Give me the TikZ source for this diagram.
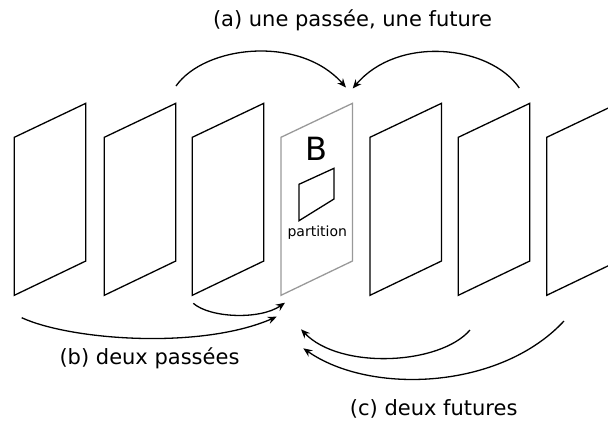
\documentclass[tikz,border=0pt]{standalone}
\usepackage{fontspec}
\setmainfont{DejaVu Sans}
\usetikzlibrary{arrows.meta}
\tikzset{
  frm/.style={line width=1.3pt, line join=miter, draw=black},
  frmB/.style={line width=1.3pt, line join=miter, draw=black!40},
  arr/.style={line width=1.3pt, -{Stealth[length=9pt,width=7.5pt,inset=3pt]}},
  lbl/.style={inner sep=0pt, font=\fontsize{21}{25}\selectfont},
}
\newcommand{\myframe}[3]{%
  \draw[#3] (#2,137.3) coordinate (#1) -- (#2+71.5,103.3) -- (#2+71.5,261) -- (#2,295.3) -- cycle;}
\begin{document}
\begin{tikzpicture}[x=1pt,y=-1pt]
\useasboundingbox (0,0) rectangle (608,421);
\clip (0,0) rectangle (608,421);
\myframe{f1}{14.3}{frm}
\myframe{f2}{104.3}{frm}
\myframe{f3}{192.3}{frm}
\myframe{fB}{281}{frmB}
\myframe{f5}{370}{frm}
\myframe{f6}{458.3}{frm}
\myframe{f7}{546.7}{frm}
% inner partition
\draw[frm] (299,184.3) -- (334,168.3) -- (334,199) -- (299,220.7) -- cycle;
\node[inner sep=0pt, font=\fontsize{32}{36}\selectfont] (B) at (316,149) {B};
\node[inner sep=0pt, font=\fontsize{14}{16}\selectfont] (part) at (317.3,232.5) {partition};
% labels
\node[lbl] (la) at (352.5,20.7) {(a) une passée, une future};
\node[lbl] (lb) at (149.5,358.3) {(b) deux passées};
\node[lbl] (lc) at (433.7,409.3) {(c) deux futures};
% arrow endpoints
\coordinate (a1s) at (176,86);
\coordinate (a1e) at (346,87.5);
\coordinate (a2s) at (519.3,88);
\coordinate (a2e) at (352.7,88.5);
\coordinate (b1s) at (193.3,303.3);
\coordinate (b1e) at (285,302.7);
\coordinate (b2s) at (21.7,317.7);
\coordinate (b2e) at (276.7,316.7);
\coordinate (c1s) at (470,330);
\coordinate (c1e) at (301,329.3);
\coordinate (c2s) at (564,321);
\coordinate (c2e) at (303.3,348.3);
% arrows
\draw[arr] (a1s) .. controls (205,45) and (300,35) .. (a1e);
\draw[arr] (a2s) .. controls (490,45) and (398,35) .. (a2e);
\draw[arr] (b1s) .. controls (210,318) and (260,320) .. (b1e);
\draw[arr] (b2s) .. controls (70,340) and (200,350) .. (b2e);
\draw[arr] (c1s) .. controls (440,365) and (340,370) .. (c1e);
\draw[arr] (c2s) .. controls (500,390) and (370,395) .. (c2e);
\end{tikzpicture}
\end{document}
